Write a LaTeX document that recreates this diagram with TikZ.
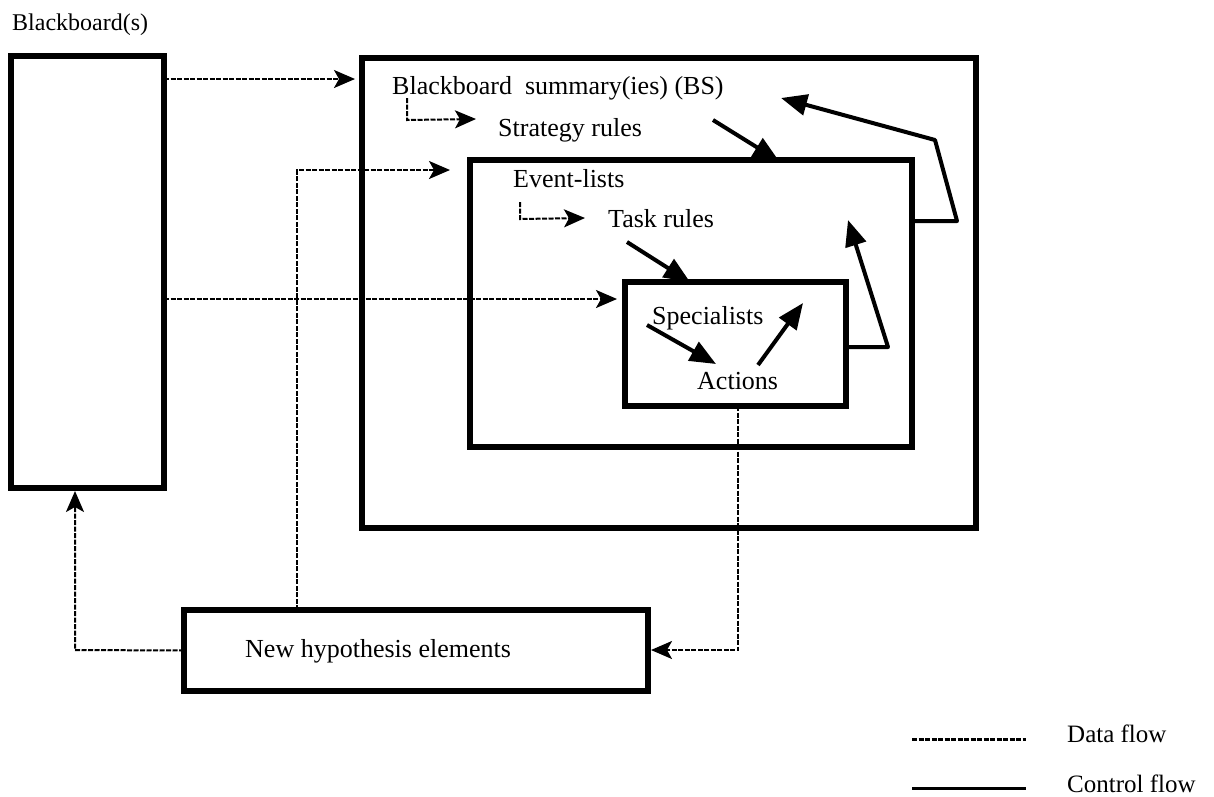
\documentclass[tikz,border=0pt]{standalone}
\usepackage{fontspec}
\setmainfont{Liberation Serif}
\usetikzlibrary{arrows.meta,calc}
\begin{document}
\begin{tikzpicture}[x=1pt,y=-1pt,
  box/.style={draw,line width=5.5pt,inner sep=0pt,outer sep=0pt,rectangle},
  lbl/.style={anchor=base west,inner sep=0pt,font=\fontsize{26}{30}\selectfont},
  data/.style={line width=2pt,dash pattern=on 5pt off 1.5pt,-{Stealth[length=21pt,width=18pt,inset=5pt]}},
  ctrl/.style={line width=4pt,line join=round,-{Triangle[length=26pt,width=21pt]}},
]
\useasboundingbox (0,0) rectangle (1214,796);

% boxes
\node[box,minimum width=153pt,minimum height=432pt] (bb) at (87.5,272) {};
\node[box,minimum width=614pt,minimum height=470pt] (outer) at (669,293) {};
\node[box,minimum width=442pt,minimum height=287pt] (mid) at (691,303.5) {};
\node[box,minimum width=221pt,minimum height=124pt] (inner) at (735.5,344) {};
\node[box,minimum width=464pt,minimum height=81pt] (newh) at (416,650.5) {};

% labels
\node[lbl,font=\fontsize{24}{28}\selectfont] (bbl) at (12,30) {Blackboard(s)};
\node[lbl] (bs) at (392,94) {Blackboard\ \ summary(ies) (BS)};
\node[lbl] (sr) at (498,136) {Strategy rules};
\node[lbl] (el) at (513,187) {Event-lists};
\node[lbl] (tr) at (608,227) {Task rules};
\node[lbl] (sp) at (652,324) {Specialists};
\node[lbl] (ac) at (697,389) {Actions};
\node[lbl] (nht) at (245,657) {New hypothesis elements};
\node[lbl,font=\fontsize{25}{30}\selectfont] (ldf) at (1067,742) {Data flow};
\node[lbl,font=\fontsize{25}{30}\selectfont] (lcf) at (1067,792) {Control flow};

% coordinates
\coordinate (d1e) at (355,79);
\coordinate (d2c) at (297,170);
\coordinate (d2e) at (450,170);
\coordinate (d3e) at (617,299);
\coordinate (d4c) at (738,650);
\coordinate (d5c) at (75,650);
\coordinate (l1s) at (407,98);
\coordinate (l1c) at (407,120);
\coordinate (l1e) at (476,119);
\coordinate (l2s) at (520,202);
\coordinate (l2c) at (520,219);
\coordinate (l2e) at (585,218);
\coordinate (c1s) at (713,120);
\coordinate (c1e) at (779,161);
\coordinate (c2s) at (627,242);
\coordinate (c2e) at (690,282);
\coordinate (c3s) at (647,325);
\coordinate (c3e) at (716,364);
\coordinate (c4s) at (758,365);
\coordinate (c4e) at (803,303);
\coordinate (c5c) at (888,347);
\coordinate (c5e) at (848,220);
\coordinate (c6c) at (957,221);
\coordinate (c6d) at (935,140);
\coordinate (c6e) at (781,98);
\coordinate (lg1s) at (912,739);
\coordinate (lg1e) at (1026,739);
\coordinate (lg2s) at (912,788);
\coordinate (lg2e) at (1026,788);

% data flow
\draw[data] (bb.east |- d1e) -- (d1e);
\draw[data] (newh.north -| d2c) -- (d2c) -- (d2e);
\draw[data] (bb.east |- d3e) -- (d3e);
\draw[data,shorten >=3pt] (inner.south -| d4c) -- (d4c) -- (newh.east |- d4c);
\draw[data,shorten >=3pt] (newh.west) -- (d5c) -- (bb.south -| d5c);
\draw[data] (l1s) -- (l1c) -- (l1e);
\draw[data] (l2s) -- (l2c) -- (l2e);

% control flow
\draw[ctrl] (c1s) -- (c1e);
\draw[ctrl] (c2s) -- (c2e);
\draw[ctrl] (c3s) -- (c3e);
\draw[ctrl] (c4s) -- (c4e);
\draw[ctrl] (inner.east |- c5c) -- (c5c) -- (c5e);
\draw[ctrl] (mid.east |- c6c) -- (c6c) -- (c6d) -- (c6e);

% legend
\draw[line width=3pt,dash pattern=on 5pt off 1.5pt] (lg1s) -- (lg1e);
\draw[line width=3pt] (lg2s) -- (lg2e);
\end{tikzpicture}
\end{document}
